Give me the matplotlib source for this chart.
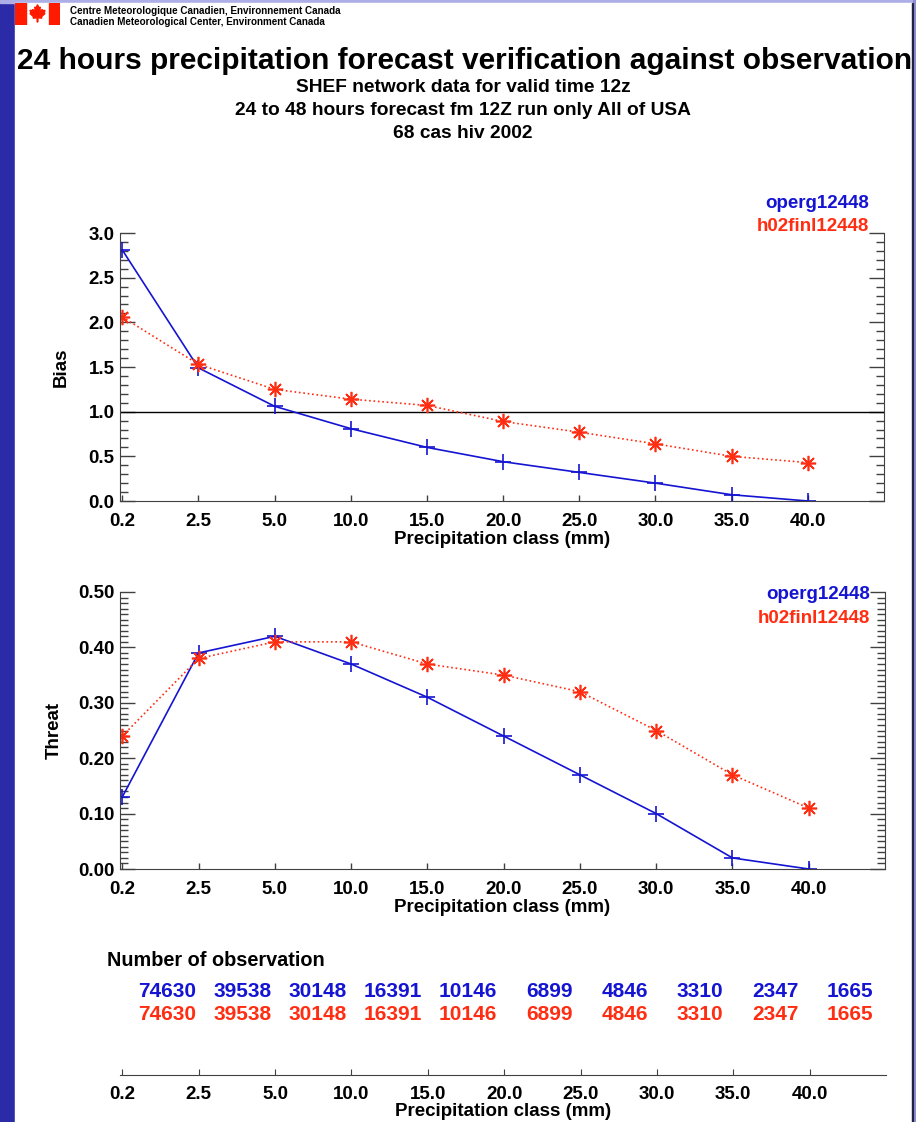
import numpy as np
import matplotlib.pyplot as plt
from matplotlib.patches import Rectangle, Polygon
from matplotlib.ticker import MultipleLocator, FormatStrFormatter

plt.rcParams['font.family'] = ['Liberation Sans', 'DejaVu Sans']
plt.rcParams['font.weight'] = 'bold'
plt.rcParams['axes.labelweight'] = 'bold'

classes = ["0.2", "2.5", "5.0", "10.0", "15.0", "20.0", "25.0", "30.0", "35.0", "40.0"]
bias_oper = [2.81, 1.49, 1.06, 0.81, 0.60, 0.44, 0.32, 0.20, 0.07, 0.00]
bias_h02 = [2.06, 1.53, 1.25, 1.14, 1.07, 0.89, 0.77, 0.64, 0.50, 0.43]
threat_oper = [0.13, 0.39, 0.42, 0.37, 0.31, 0.24, 0.17, 0.10, 0.02, 0.00]
threat_h02 = [0.24, 0.38, 0.41, 0.41, 0.37, 0.35, 0.32, 0.25, 0.17, 0.11]
nobs_oper = [74630, 39538, 30148, 16391, 10146, 6899, 4846, 3310, 2347, 1665]
nobs_h02 = [74630, 39538, 30148, 16391, 10146, 6899, 4846, 3310, 2347, 1665]
names = ["operg12448", "h02finl12448"]

BLUE = "#1414d2"
RED = "#ff2d12"
W, H = 916, 1122
FS = 13.5


def box(x0, y0, x1, y1):
    # pixel box (top-left origin) -> figure fraction rect
    return [x0 / W, 1 - y1 / H, (x1 - x0) / W, (y1 - y0) / H]


def rect(x0, y0, x1, y1, color):
    fig.add_artist(Rectangle((x0 / W, 1 - y1 / H), (x1 - x0) / W, (y1 - y0) / H,
                             color=color, transform=fig.transFigure, zorder=-10))


fig = plt.figure(figsize=(W / 100, H / 100), dpi=100)
fig.patch.set_facecolor("#2b2ba8")
rect(0, 0, W, 3, "#aeaee6")
rect(913, 0, W, H, "#8c8cd8")
rect(15, 3, 913, H, "white")
rect(911.5, 3, 913, H, "#202040")

# flag
fl = fig.add_axes(box(15, 3, 60, 25))
fl.set_xlim(0, 4)
fl.set_ylim(-1, 1)
fl.axis("off")
fl.add_patch(Rectangle((0, -1), 1, 2, color="#ff1a00"))
fl.add_patch(Rectangle((3, -1), 1, 2, color="#ff1a00"))
leaf = np.array([(0, 1), (0.18, 0.65), (0.35, 0.75), (0.28, 0.2), (0.6, 0.5), (0.65, 0.35),
                 (0.95, 0.4), (0.85, 0.1), (0.95, 0.05), (0.5, -0.3), (0.55, -0.45),
                 (0.05, -0.4), (0.05, -0.85), (-0.05, -0.85), (-0.05, -0.4), (-0.55, -0.45),
                 (-0.5, -0.3), (-0.95, 0.05), (-0.85, 0.1), (-0.95, 0.4), (-0.65, 0.35),
                 (-0.6, 0.5), (-0.28, 0.2), (-0.35, 0.75), (-0.18, 0.65)])
fl.add_patch(Polygon(leaf * [0.7, 0.85] + [2, 0], color="#ff1a00"))

fig.text(70 / W, 1 - 11 / H, "Centre Meteorologique Canadien, Environnement Canada", fontsize=7.1, va="center")
fig.text(70 / W, 1 - 22 / H, "Canadien Meteorological Center, Environment Canada", fontsize=7.1, va="center")

fig.text(465 / W, 1 - 61 / H, "24 hours precipitation forecast verification against observation",
         fontsize=21.5, ha="center", va="center")
subs = ["SHEF network data for valid time 12z", "24 to 48 hours forecast fm 12Z run only All of USA",
        "68 cas hiv 2002"]
for i, s in enumerate(subs):
    fig.text(463 / W, 1 - (87 + 23.5 * i) / H, s, fontsize=13.8, ha="center", va="center")

x = np.arange(len(classes))


def style_axes(ax, major, minor, fmt):
    ax.set_xlim(-0.03, 10.0)
    ax.spines["top"].set_visible(False)
    for s in ax.spines.values():
        s.set_color("#404040")
    ax.set_xticks(x)
    ax.set_xticklabels(classes)
    ax.yaxis.set_major_locator(MultipleLocator(major))
    ax.yaxis.set_minor_locator(MultipleLocator(minor))
    ax.yaxis.set_major_formatter(FormatStrFormatter(fmt))
    ax.tick_params(axis="y", which="major", direction="in", length=11, width=1,
                   right=True, labelsize=FS, pad=4, color="#404040")
    ax.tick_params(axis="y", which="minor", direction="in", length=6, width=1,
                   right=True, color="#404040")
    ax.tick_params(axis="x", direction="in", length=4, width=1, labelsize=FS, pad=9,
                   top=False, color="#404040")
    ax.set_xlabel("Precipitation class (mm)", fontsize=FS, labelpad=0)


def legend(ax, y0):
    ax.text(0.98, y0, names[0], color=BLUE, fontsize=FS, ha="right", va="center",
            transform=ax.transAxes, clip_on=False)
    ax.text(0.98, y0 - 0.085, names[1], color=RED, fontsize=FS, ha="right", va="center",
            transform=ax.transAxes, clip_on=False)


ax1 = fig.add_axes(box(120, 233, 884, 501))
ax1.axhline(1.0, color="black", lw=1)
ax1.plot(x, bias_oper, color=BLUE, lw=1.2, marker="+", ms=11, mew=1.2)
ax1.plot(x, bias_h02, color=RED, lw=1.2, ls=":", marker=(8, 2, 0), ms=11, mew=1.2)
ax1.set_ylim(0, 3.0)
style_axes(ax1, 0.5, 0.1, "%.1f")
ax1.set_ylabel("Bias", fontsize=FS)
ax1.yaxis.set_label_coords(-0.066, 0.5)
legend(ax1, 1.11)

ax2 = fig.add_axes(box(120, 592, 885, 869))
ax2.plot(x, threat_oper, color=BLUE, lw=1.2, marker="+", ms=11, mew=1.2)
ax2.plot(x, threat_h02, color=RED, lw=1.2, ls=":", marker=(8, 2, 0), ms=11, mew=1.2)
ax2.set_ylim(0, 0.5)
style_axes(ax2, 0.1, 0.01, "%.2f")
ax2.set_ylabel("Threat", fontsize=FS)
ax2.yaxis.set_label_coords(-0.075, 0.5)
legend(ax2, 0.99)

# number of observation table
ax3 = fig.add_axes(box(120, 1060, 886, 1075))
ax3.set_xlim(-0.03, 10.0)
ax3.set_ylim(0, 1)
ax3.patch.set_visible(False)
for s in ["top", "left", "right"]:
    ax3.spines[s].set_visible(False)
ax3.spines["bottom"].set_color("#404040")
ax3.set_yticks([])
ax3.set_xticks(x)
ax3.set_xticklabels(classes)
ax3.tick_params(axis="x", direction="in", length=4, labelsize=FS, pad=8, color="#404040")
ax3.set_xlabel("Precipitation class (mm)", fontsize=FS, labelpad=0)

fig.text(107 / W, 1 - 960 / H, "Number of observation", fontsize=14.3, va="center")
for k in range(len(classes)):
    xr = 0.97 + 0.985 * k
    ax3.text(xr, 5.55, str(nobs_oper[k]), color=BLUE, fontsize=15, ha="right", va="center",
             transform=ax3.get_xaxis_transform(), clip_on=False)
    ax3.text(xr, 4.02, str(nobs_h02[k]), color=RED, fontsize=15, ha="right", va="center",
             transform=ax3.get_xaxis_transform(), clip_on=False)

fig.savefig("out.png", dpi=100, facecolor=fig.get_facecolor())
